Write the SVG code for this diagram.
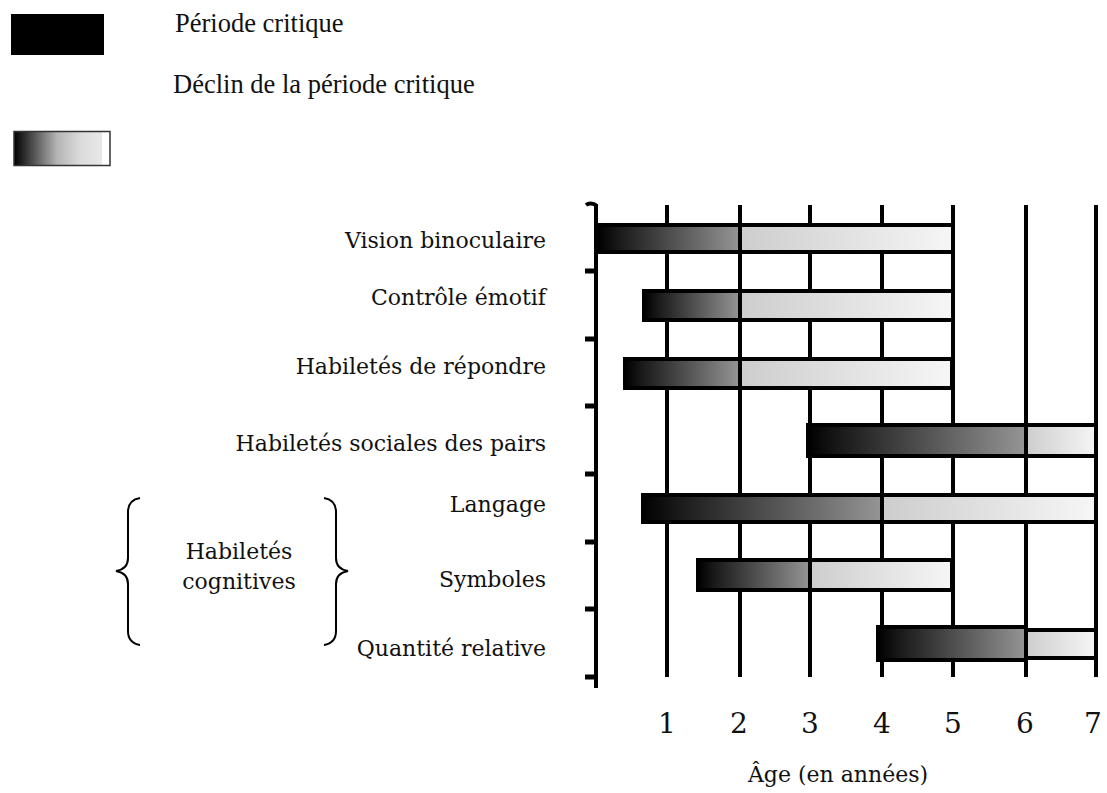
<svg xmlns="http://www.w3.org/2000/svg" width="1107" height="793" viewBox="0 0 1107 793">
<style>
.lbl{font-family:"DejaVu Serif","Liberation Serif",serif;font-size:22px;fill:#111;}
.leg{font-family:"Liberation Serif","Times New Roman",serif;font-size:26.5px;fill:#111;}
.num{font-family:"DejaVu Serif","Liberation Serif",serif;font-size:28px;fill:#111;text-anchor:middle;}
.grid{stroke:#000;stroke-width:4;}
.tick{stroke:#000;stroke-width:5;}
.bar{stroke:#000;stroke-width:4;}
.brace{fill:none;stroke:#000;stroke-width:2;}
</style>
<defs>
<linearGradient id="gDark" x1="0" x2="1" y1="0" y2="0">
<stop offset="0" stop-color="#000"/>
<stop offset="0.15" stop-color="#1a1a1a"/>
<stop offset="1" stop-color="#959595"/>
</linearGradient>
<linearGradient id="gLight" x1="0" x2="1" y1="0" y2="0">
<stop offset="0" stop-color="#cdcdcd"/>
<stop offset="1" stop-color="#f6f6f6"/>
</linearGradient>
<linearGradient id="gLegend" x1="0" x2="1" y1="0" y2="0">
<stop offset="0" stop-color="#000"/>
<stop offset="0.45" stop-color="#b5b5b5"/>
<stop offset="0.7" stop-color="#dcdcdc"/>
<stop offset="0.92" stop-color="#e8e8e8"/>
<stop offset="0.92" stop-color="#fff"/>
<stop offset="1" stop-color="#fff"/>
</linearGradient>
</defs>
<rect width="1107" height="793" fill="#fff"/>

<g id="legend">
<rect x="11" y="14" width="93" height="41" fill="#000"/>
<text class="leg" x="175" y="32">Période critique</text>
<text class="leg" x="173" y="93">Déclin de la période critique</text>
<rect x="14" y="131.5" width="96" height="34" fill="url(#gLegend)" stroke="#333" stroke-width="1.5"/>
</g>

<g id="grid">
<line class="grid" x1="667" y1="205" x2="667" y2="677"/>
<line class="grid" x1="740" y1="205" x2="740" y2="677"/>
<line class="grid" x1="810" y1="205" x2="810" y2="677"/>
<line class="grid" x1="882" y1="205" x2="882" y2="677"/>
<line class="grid" x1="953" y1="205" x2="953" y2="677"/>
<line class="grid" x1="1026" y1="205" x2="1026" y2="677"/>
<line class="grid" x1="1096" y1="205" x2="1096" y2="677"/>
</g>

<g id="axis">
<line x1="596" y1="204" x2="596" y2="688" stroke="#000" stroke-width="4"/>
<path d="M586 205 Q590 202 596 205" fill="none" stroke="#000" stroke-width="4"/>
<line class="tick" x1="585" y1="271" x2="596" y2="271"/>
<line class="tick" x1="585" y1="339" x2="596" y2="339"/>
<line class="tick" x1="585" y1="406" x2="596" y2="406"/>
<line class="tick" x1="585" y1="474" x2="596" y2="474"/>
<line class="tick" x1="585" y1="542" x2="596" y2="542"/>
<line class="tick" x1="585" y1="609" x2="596" y2="609"/>
<line class="tick" x1="585" y1="677" x2="596" y2="677"/>
</g>

<g id="bar-vision">
<rect class="bar" x="598" y="225" width="142" height="27" fill="url(#gDark)"/>
<rect class="bar" x="740" y="225" width="213" height="27" fill="url(#gLight)"/>
<text class="lbl" x="546" y="248" text-anchor="end">Vision binoculaire</text>
</g>
<g id="bar-controle">
<rect class="bar" x="644" y="291" width="96" height="29" fill="url(#gDark)"/>
<rect class="bar" x="740" y="291" width="213" height="29" fill="url(#gLight)"/>
<text class="lbl" x="546" y="305" text-anchor="end">Contrôle émotif</text>
</g>
<g id="bar-repondre">
<rect class="bar" x="625" y="359" width="115" height="29" fill="url(#gDark)"/>
<rect class="bar" x="740" y="359" width="212" height="29" fill="url(#gLight)"/>
<text class="lbl" x="546" y="374" text-anchor="end">Habiletés de répondre</text>
</g>
<g id="bar-sociales">
<rect class="bar" x="808" y="425" width="218" height="31" fill="url(#gDark)"/>
<rect class="bar" x="1026" y="425" width="70" height="31" fill="url(#gLight)"/>
<text class="lbl" x="546" y="451" text-anchor="end">Habiletés sociales des pairs</text>
</g>
<g id="bar-langage">
<rect class="bar" x="643" y="495" width="239" height="27" fill="url(#gDark)"/>
<rect class="bar" x="882" y="495" width="214" height="27" fill="url(#gLight)"/>
<text class="lbl" x="546" y="512" text-anchor="end">Langage</text>
</g>
<g id="bar-symboles">
<rect class="bar" x="698" y="560" width="112" height="30" fill="url(#gDark)"/>
<rect class="bar" x="810" y="560" width="142" height="30" fill="url(#gLight)"/>
<text class="lbl" x="546" y="587" text-anchor="end">Symboles</text>
</g>
<g id="bar-quantite">
<rect class="bar" x="878" y="627" width="148" height="33" fill="url(#gDark)"/>
<rect class="bar" x="1026" y="630" width="70" height="28" fill="url(#gLight)"/>
<text class="lbl" x="546" y="656" text-anchor="end">Quantité relative</text>
</g>

<g id="group-cognitive">
<path class="brace" d="M140 498 Q128 500 128 512 L128 558 Q128 569 116 571 Q128 573 128 584 L128 631 Q128 643 140 645"/>
<path class="brace" d="M324 498 Q336 500 336 512 L336 558 Q336 569 348 571 Q336 573 336 584 L336 631 Q336 643 324 645"/>
<text class="lbl" x="239" y="559" text-anchor="middle">Habiletés</text>
<text class="lbl" x="239" y="589" text-anchor="middle">cognitives</text>
</g>

<g id="x-axis-labels">
<text class="num" x="667" y="733">1</text>
<text class="num" x="739" y="733">2</text>
<text class="num" x="810" y="733">3</text>
<text class="num" x="882" y="733">4</text>
<text class="num" x="953" y="733">5</text>
<text class="num" x="1025" y="733">6</text>
<text class="num" x="1093" y="733">7</text>
<text class="lbl" x="838" y="782" text-anchor="middle">Âge (en années)</text>
</g>
</svg>
